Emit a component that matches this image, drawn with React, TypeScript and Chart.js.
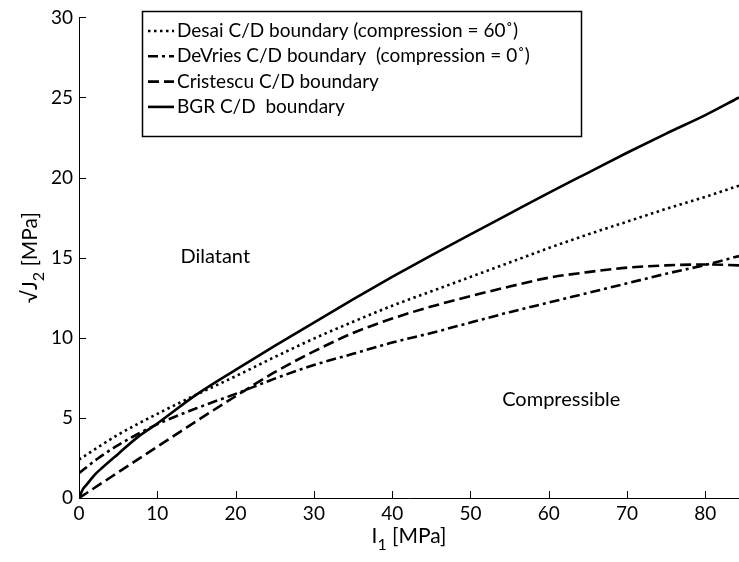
import { useEffect, useRef } from "react";
import { Chart, registerables } from "chart.js";

Chart.register(...registerables);

// ---- data ----
const X_DESAI = [0, 5, 10, 15, 20, 25, 30, 35, 40, 45, 50, 55, 60, 65, 70, 75, 80, 84.3];
const Y_DESAI = [2.4, 3.95, 5.25, 6.45, 7.6, 8.8, 9.95, 11.0, 12.0, 12.9, 13.8, 14.7, 15.6, 16.45, 17.25, 18.05, 18.8, 19.5];

const X_DEVRIES = [0, 2.5, 5, 10, 15, 20, 25, 30, 35, 40, 45, 50, 55, 60, 65, 70, 75, 80, 84.3];
const Y_DEVRIES = [1.55, 2.5, 3.3, 4.6, 5.6, 6.5, 7.45, 8.3, 9.0, 9.7, 10.3, 10.95, 11.6, 12.2, 12.8, 13.4, 14.0, 14.55, 15.1];

const X_CRISTESCU = [0, 5, 10, 15, 20, 25, 30, 35, 40, 45, 50, 55, 60, 65, 70, 75, 80, 84.3];
const Y_CRISTESCU = [0, 1.6, 3.2, 4.8, 6.35, 7.85, 9.15, 10.3, 11.2, 11.95, 12.6, 13.2, 13.75, 14.1, 14.38, 14.52, 14.58, 14.52];

const X_BGR = [0, 0.5, 1, 2, 3, 5, 7.5, 10, 15, 20, 25, 30, 35, 40, 45, 50, 55, 60, 65, 70, 75, 80, 84.3];
const Y_BGR = [0, 0.55, 0.85, 1.45, 1.9, 2.75, 3.8, 4.65, 6.45, 8.0, 9.5, 10.95, 12.4, 13.8, 15.15, 16.45, 17.75, 19.05, 20.3, 21.55, 22.75, 23.9, 25.0];

const SERIES_LABELS = [
  "Desai C/D boundary (compression = 60\u02DA)",
  "DeVries C/D boundary  (compression = 0\u02DA)",
  "Cristescu C/D boundary",
  "BGR C/D  boundary",
];

const X_TICKS = [0, 10, 20, 30, 40, 50, 60, 70, 80];
const Y_TICKS = [0, 5, 10, 15, 20, 25, 30];

const REGION_LABELS = ["Dilatant", "Compressible"];
const REGION_X = [17.4, 61.6];
const REGION_Y = [15.1, 6.15];

const X_MIN = 0;
const X_MAX = 84.3;
const Y_MIN = 0;
const Y_MAX = 30;

const FONT = "Lato, 'Open Sans', sans-serif";
const INK = "#000";

function pts(xs: number[], ys: number[]) {
  return xs.map((x, i) => ({ x, y: ys[i] }));
}

const innerTicks = {
  id: "innerTicks",
  afterDatasetsDraw(chart: any) {
    const { ctx, chartArea, scales } = chart;
    ctx.save();
    ctx.strokeStyle = INK;
    ctx.lineWidth = 1;
    ctx.setLineDash([]);
    const len = 7;
    scales.x.ticks.forEach((t: any) => {
      const px = Math.round(scales.x.getPixelForValue(t.value)) + 0.5;
      ctx.beginPath();
      ctx.moveTo(px, chartArea.bottom);
      ctx.lineTo(px, chartArea.bottom - len);
      ctx.stroke();
    });
    scales.y.ticks.forEach((t: any) => {
      const py = Math.round(scales.y.getPixelForValue(t.value)) + 0.5;
      ctx.beginPath();
      ctx.moveTo(chartArea.left, py);
      ctx.lineTo(chartArea.left + len, py);
      ctx.stroke();
    });
    ctx.restore();
  },
};

const annotations = {
  id: "annotations",
  afterDraw(chart: any) {
    const { ctx, scales, chartArea, data } = chart;
    ctx.save();
    ctx.fillStyle = INK;
    ctx.textBaseline = "middle";
    // region labels
    ctx.font = `20px ${FONT}`;
    ctx.textAlign = "center";
    REGION_LABELS.forEach((lab, i) => {
      ctx.fillText(lab, scales.x.getPixelForValue(REGION_X[i]), scales.y.getPixelForValue(REGION_Y[i]));
    });

    // legend
    const lx = 142, ly = 11, lw = 439, lh = 125;
    ctx.fillStyle = "#fff";
    ctx.fillRect(lx, ly, lw, lh);
    ctx.strokeStyle = INK;
    ctx.lineWidth = 1.5;
    ctx.strokeRect(lx + 0.5, ly + 0.5, lw, lh);
    ctx.textAlign = "left";
    ctx.font = `19px ${FONT}`;
    data.datasets.forEach((ds: any, i: number) => {
      const yy = 31 + i * 25.3;
      ctx.save();
      ctx.strokeStyle = ds.borderColor;
      ctx.lineWidth = ds.borderWidth;
      ctx.setLineDash(ds.borderDash || []);
      ctx.beginPath();
      ctx.moveTo(148, yy);
      ctx.lineTo(174, yy);
      ctx.stroke();
      ctx.restore();
      ctx.fillStyle = INK;
      ctx.fillText(ds.label, 177, yy);
    });

    // axis titles with subscripts
    ctx.fillStyle = INK;
    const big = `21px ${FONT}`;
    const small = `16px ${FONT}`;
    const measure = (parts: any[]) =>
      parts.reduce((s, p) => {
        ctx.font = p.f;
        return s + ctx.measureText(p.t).width;
      }, 0);
    // x title: I1 [MPa]
    const xParts = [
      { t: "I", f: big, dy: 0 },
      { t: "1", f: small, dy: 9 },
      { t: " [MPa]", f: big, dy: 0 },
    ];
    let total = measure(xParts);
    let cx = (chartArea.left + chartArea.right) / 2 - total / 2;
    const xBase = 536;
    xParts.forEach((p) => {
      ctx.font = p.f;
      ctx.fillText(p.t, cx, xBase + p.dy);
      cx += ctx.measureText(p.t).width;
    });
    // y title: √J2 [MPa]
    const yParts = [
      { t: "\u221AJ", f: big, dy: 0 },
      { t: "2", f: small, dy: 9 },
      { t: " [MPa]", f: big, dy: 0 },
    ];
    total = measure(yParts);
    ctx.save();
    ctx.translate(30, (chartArea.top + chartArea.bottom) / 2);
    ctx.rotate(-Math.PI / 2);
    let cy = -total / 2;
    yParts.forEach((p) => {
      ctx.font = p.f;
      ctx.fillText(p.t, cy, p.dy);
      cy += ctx.measureText(p.t).width;
    });
    ctx.restore();
    ctx.restore();
  },
};

export default function App() {
  const ref = useRef<HTMLCanvasElement | null>(null);

  useEffect(() => {
    document.body.style.margin = "0";
    if (!ref.current) return;
    const common = {
      borderColor: INK,
      backgroundColor: INK,
      borderWidth: 2.6,
      pointRadius: 0,
      fill: false,
      cubicInterpolationMode: "monotone" as const,
    };
    const chart = new Chart(ref.current, {
      type: "line",
      data: {
        datasets: [
          { ...common, label: SERIES_LABELS[0], data: pts(X_DESAI, Y_DESAI), borderDash: [2.5, 3.5] },
          { ...common, label: SERIES_LABELS[1], data: pts(X_DEVRIES, Y_DEVRIES), borderDash: [10, 4, 3, 4] },
          { ...common, label: SERIES_LABELS[2], data: pts(X_CRISTESCU, Y_CRISTESCU), borderDash: [11, 5] },
          { ...common, label: SERIES_LABELS[3], data: pts(X_BGR, Y_BGR), borderDash: [] },
        ],
      },
      options: {
        responsive: false,
        animation: false,
        layout: { padding: { top: 12, right: 0, left: 0, bottom: 0 } },
        plugins: {
          legend: { display: false },
          tooltip: { enabled: false },
        },
        scales: {
          x: {
            type: "linear",
            min: X_MIN,
            max: X_MAX,
            grid: { display: false, drawTicks: false },
            border: { display: true, color: INK, width: 1 },
            ticks: {
              color: INK,
              font: { family: FONT, size: 19 },
              padding: 4,
              maxRotation: 0,
              autoSkip: false,
            },
            afterBuildTicks: (scale: any) => {
              scale.ticks = X_TICKS.map((v) => ({ value: v }));
            },
            afterFit: (scale: any) => {
              scale.height = 64;
            },
          },
          y: {
            type: "linear",
            min: Y_MIN,
            max: Y_MAX,
            grid: { display: false, drawTicks: false },
            border: { display: true, color: INK, width: 1 },
            ticks: {
              color: INK,
              font: { family: FONT, size: 19 },
              padding: 6,
              autoSkip: false,
            },
            afterBuildTicks: (scale: any) => {
              scale.ticks = Y_TICKS.map((v) => ({ value: v }));
            },
            afterFit: (scale: any) => {
              scale.width = 79;
            },
          },
        },
      },
      plugins: [innerTicks, annotations],
    });
    return () => chart.destroy();
  }, []);

  return (
    <div style={{ width: 739, height: 562 }}>
      <canvas ref={ref} width={739} height={562} style={{ display: "block" }} />
    </div>
  );
}
